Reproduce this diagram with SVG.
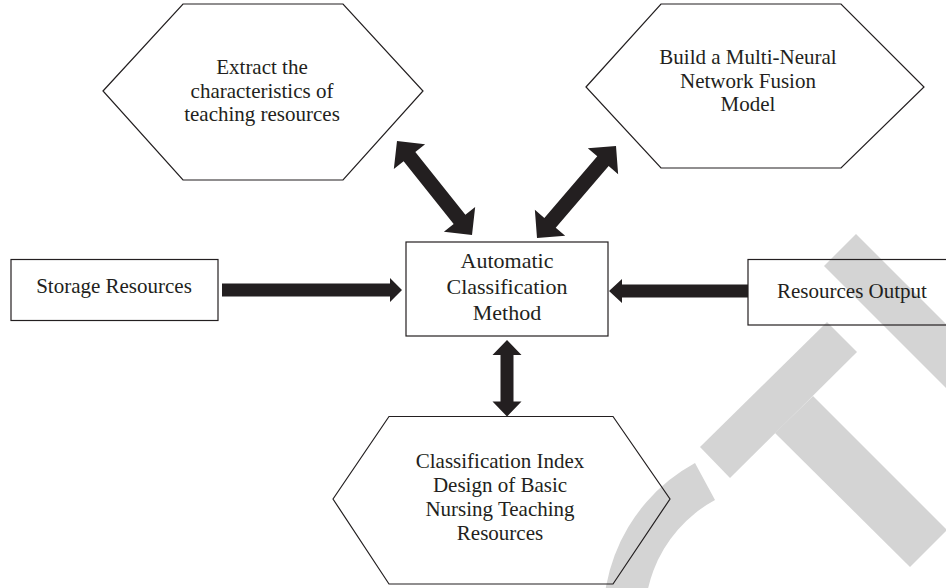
<svg xmlns="http://www.w3.org/2000/svg" width="946" height="588" viewBox="0 0 946 588">
<style>
.shape{fill:none;stroke:#231f20;stroke-width:1.2}
.lbl{font-family:"Liberation Serif","Times New Roman",serif;font-size:21px;fill:#231f20;text-anchor:middle}
.big{font-size:22px}
.arrow{fill:#231f20;stroke:none}
.wm{fill:#d4d4d4;stroke:none}
</style>
<rect width="946" height="588" fill="#ffffff"/>
<g id="watermark">
<polygon class="wm" points="824,266 856,234 946,324 946,388"/>
<polygon class="wm" points="700,447 827,322 857,352 730,478"/>
<polygon class="wm" points="775,433 813,396 947,530 910,567"/>
<path class="wm" d="M695,463 A176,176 0 0 0 614,678 L653,664 A134,134 0 0 1 715,500 Z"/>
</g>
<g id="connectors">
<polygon class="arrow" points="222,283.5 390,283.5 390,278 402,290 390,302 390,296.5 222,296.5"/>
<polygon class="arrow" points="748,284.5 622,284.5 622,279 609,291 622,303 622,297.5 748,297.5"/>
<polygon class="arrow" points="507,340 521.5,355 513.5,355 513.5,401.5 521.5,401.5 507,416.5 492.5,401.5 500.5,401.5 500.5,355 492.5,355"/>
<polygon class="arrow" points="397,141 425.10,144.16 415.33,151.95 465.39,214.69 475.16,206.90 472,235 443.90,231.84 453.67,224.05 403.61,161.31 393.84,169.10"/>
<polygon class="arrow" points="616,146 618.14,174.20 608.66,166.06 555.72,227.72 565.20,235.86 537,238 534.86,209.80 544.34,217.94 597.28,156.28 587.80,148.14"/>
</g>
<g id="extract">
<polygon class="shape" points="103,91 183,4 343,4 423,91 343,180 183,180"/>
<text class="lbl" x="262" y="74">Extract the</text>
<text class="lbl" x="262" y="97.5">characteristics of</text>
<text class="lbl" x="262" y="121">teaching resources</text>
</g>
<g id="fusion">
<polygon class="shape" points="586,87 661,4 841,4 924,87 841,168 661,168"/>
<text class="lbl" x="748" y="64">Build a Multi-Neural</text>
<text class="lbl" x="748" y="87.5">Network Fusion</text>
<text class="lbl" x="748" y="111">Model</text>
</g>
<g id="method">
<rect class="shape" x="406" y="242" width="202" height="94"/>
<text class="lbl big" x="507" y="268">Automatic</text>
<text class="lbl big" x="507" y="294">Classification</text>
<text class="lbl big" x="507" y="320">Method</text>
</g>
<g id="storage">
<rect class="shape" x="11" y="259.5" width="207" height="61"/>
<text class="lbl" x="114" y="293">Storage Resources</text>
</g>
<g id="output">
<rect class="shape" x="748" y="259.5" width="220" height="65.5"/>
<text class="lbl" x="852" y="298">Resources Output</text>
</g>
<g id="index">
<polygon class="shape" points="333,499 389,416.5 613,416.5 670,499 613,584 389,584"/>
<text class="lbl" x="500" y="468">Classification Index</text>
<text class="lbl" x="500" y="492">Design of Basic</text>
<text class="lbl" x="500" y="516">Nursing Teaching</text>
<text class="lbl" x="500" y="540">Resources</text>
</g>
</svg>
